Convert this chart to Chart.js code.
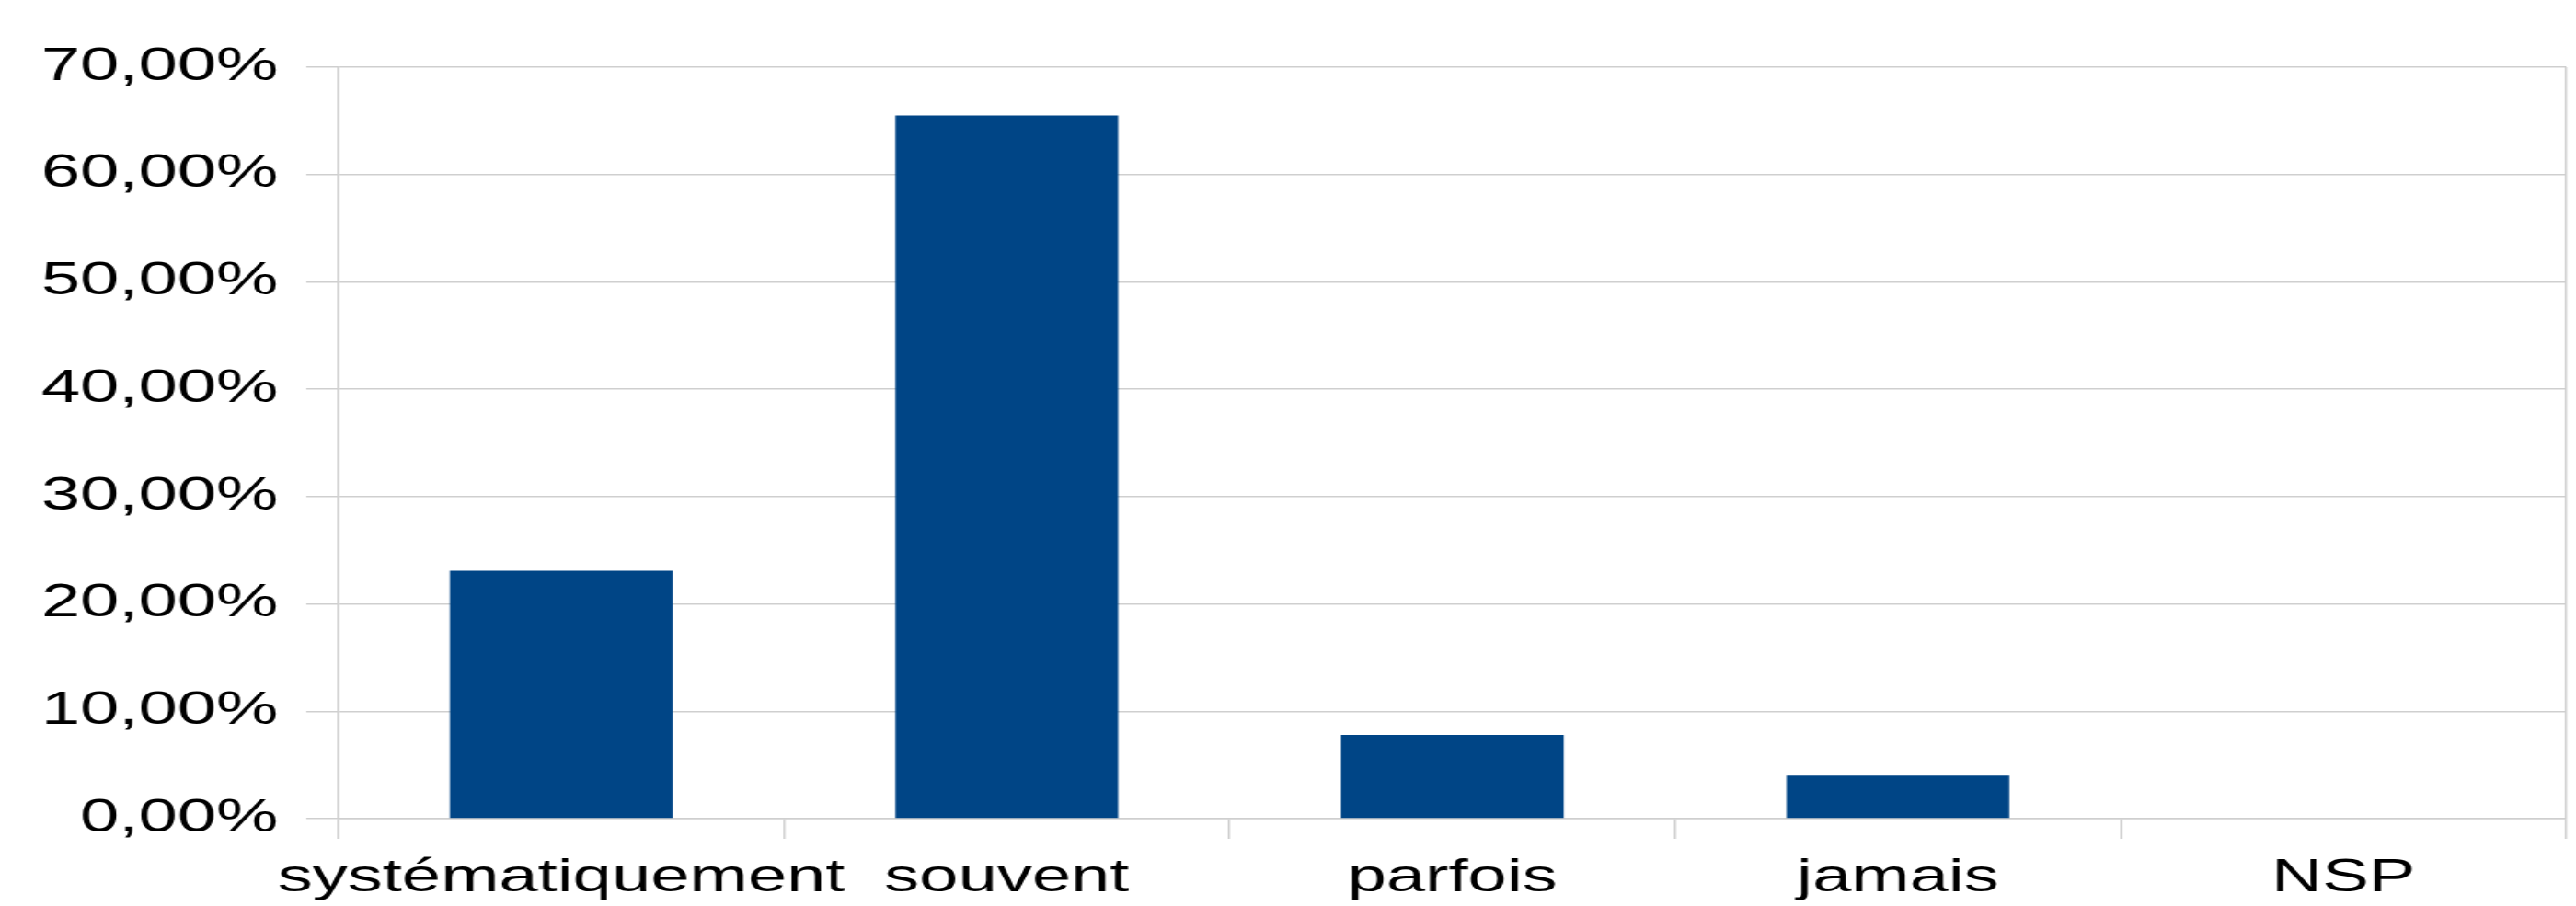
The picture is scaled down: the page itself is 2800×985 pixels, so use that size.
<!DOCTYPE html>
<html>
<head>
<meta charset="utf-8">
<script src="https://cdn.jsdelivr.net/npm/chart.js@4"></script>
<style>
  html, body { margin: 0; padding: 0; background: #ffffff; overflow: hidden; }
  /* the original picture is stretched sideways, so the canvas is too */
  #myChart { width: 2800px; height: 985px; display: block; }
</style>
</head>
<body>
<canvas id="myChart" width="1842" height="985" style="width:2800px;height:985px"></canvas>
<script>
var categories = ['systématiquement', 'souvent', 'parfois', 'jamais', 'NSP'];
var values = [23.1, 65.5, 7.8, 4.0, 0];
var yTickLabels = ['0,00%', '10,00%', '20,00%', '30,00%', '40,00%', '50,00%', '60,00%', '70,00%'];

var gridGrey = '#cfcfcf';
var ctx = document.getElementById('myChart').getContext('2d');
var chart = new Chart(ctx, {
    type: 'bar',
    data: {
        labels: categories,
        datasets: [{
            data: values,
            backgroundColor: '#004586',
            borderWidth: 0,
            categoryPercentage: 1,
            barPercentage: 0.5
        }]
    },
    options: {
        responsive: false,
        animation: false,
        devicePixelRatio: 1,
        layout: { padding: { top: 73, right: 7, bottom: 0, left: 0 } },
        plugins: {
            legend: { display: false },
            tooltip: { enabled: false }
        },
        scales: {
            x: {
                offset: true,
                grid: {
                    offset: true,
                    // only the right edge line crosses the plot, the rest are tick marks
                    color: function (c) { return c.tick ? 'rgba(0,0,0,0)' : gridGrey; },
                    tickColor: gridGrey,
                    tickLength: 22,
                    lineWidth: 1.5
                },
                border: { display: true, color: gridGrey, width: 1.5 },
                ticks: {
                    color: '#000000',
                    padding: 13,
                    maxRotation: 0,
                    autoSkip: false,
                    font: { family: 'Liberation Sans', size: 50 }
                },
                afterFit: function (s) { s.height = 95; }
            },
            y: {
                min: 0,
                max: 70,
                ticks: {
                    stepSize: 10,
                    color: '#000000',
                    padding: 20,
                    font: { family: 'Liberation Sans', size: 50 },
                    callback: function (value, index) { return yTickLabels[index]; }
                },
                grid: {
                    color: gridGrey,
                    tickLength: 23,
                    lineWidth: 1.5
                },
                border: { display: true, color: gridGrey, width: 1.5 },
                afterFit: function (s) { s.width = 242; }
            }
        }
    }
});
</script>
</body>
</html>
